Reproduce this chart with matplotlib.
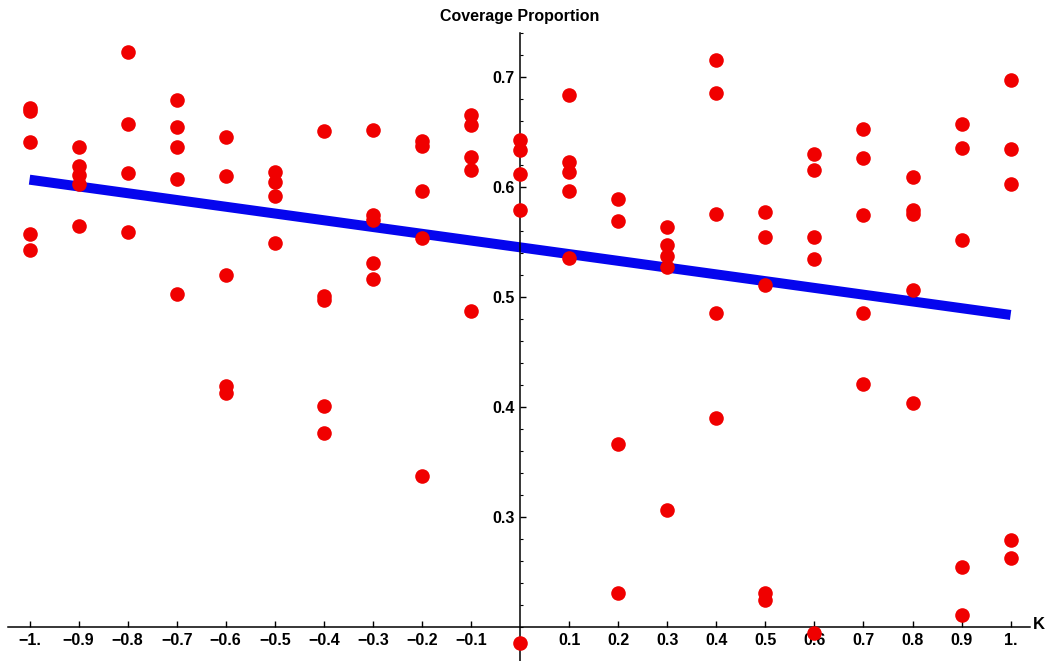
import numpy as np
import matplotlib.pyplot as plt
from matplotlib.ticker import MultipleLocator, FixedLocator

# Coverage proportion samples for each K
K_VALUES = [-1.0, -0.9, -0.8, -0.7, -0.6, -0.5, -0.4, -0.3, -0.2, -0.1,
            0.0, 0.1, 0.2, 0.3, 0.4, 0.5, 0.6, 0.7, 0.8, 0.9, 1.0]
COVERAGE = [
    [0.672, 0.669, 0.641, 0.558, 0.543],
    [0.637, 0.619, 0.611, 0.603, 0.565],
    [0.723, 0.658, 0.613, 0.559],
    [0.679, 0.655, 0.637, 0.608, 0.503],
    [0.646, 0.610, 0.520, 0.419, 0.413],
    [0.614, 0.605, 0.592, 0.549],
    [0.651, 0.501, 0.498, 0.401, 0.377],
    [0.652, 0.575, 0.570, 0.531, 0.517],
    [0.642, 0.638, 0.597, 0.554, 0.338],
    [0.666, 0.657, 0.628, 0.616, 0.488],
    [0.643, 0.634, 0.612, 0.579, 0.186],
    [0.684, 0.623, 0.614, 0.597, 0.536],
    [0.589, 0.569, 0.367, 0.231],
    [0.564, 0.548, 0.538, 0.528, 0.307],
    [0.716, 0.686, 0.576, 0.486, 0.390],
    [0.578, 0.555, 0.511, 0.231, 0.225],
    [0.630, 0.616, 0.555, 0.535, 0.195],
    [0.653, 0.627, 0.575, 0.486, 0.421],
    [0.609, 0.579, 0.576, 0.507, 0.404],
    [0.658, 0.636, 0.552, 0.255, 0.211],
    [0.698, 0.635, 0.603, 0.279, 0.263],
]

# fitted line, read at the two ends
FIT_X = [-1.0, 1.0]
FIT_Y = [0.607, 0.484]

X_TICKS = [-1.0, -0.9, -0.8, -0.7, -0.6, -0.5, -0.4, -0.3, -0.2, -0.1,
           0.1, 0.2, 0.3, 0.4, 0.5, 0.6, 0.7, 0.8, 0.9, 1.0]
X_LABELS = ["\u22121.", "\u22120.9", "\u22120.8", "\u22120.7", "\u22120.6",
            "\u22120.5", "\u22120.4", "\u22120.3", "\u22120.2", "\u22120.1",
            "0.1", "0.2", "0.3", "0.4", "0.5", "0.6", "0.7", "0.8", "0.9", "1."]
Y_TICKS = [0.3, 0.4, 0.5, 0.6, 0.7]
Y_LABELS = ["0.3", "0.4", "0.5", "0.6", "0.7"]

plt.rcParams["font.family"] = ["Liberation Sans", "DejaVu Sans"]

fig = plt.figure(figsize=(10.54, 6.61), dpi=100)
ax = fig.add_axes([0.008, 0.0, 0.969, 0.95])

xs, ys = [], []
for k, vals in zip(K_VALUES, COVERAGE):
    xs.extend([k] * len(vals))
    ys.extend(vals)

ax.plot(FIT_X, FIT_Y, color="#0505ee", linewidth=7.2, solid_capstyle="butt", zorder=2)
ax.plot(xs, ys, "o", color="#f00000", markersize=10.5, markeredgewidth=0,
        clip_on=False, zorder=3)

ax.set_xlim(-1.043, 1.039)
ax.set_ylim(0.1694, 0.7403)

for s in ["top", "right"]:
    ax.spines[s].set_visible(False)
ax.spines["left"].set_position(("data", 0.0))
ax.spines["bottom"].set_position(("data", 0.2))
for s in ["left", "bottom"]:
    ax.spines[s].set_linewidth(1.1)

ax.xaxis.set_major_locator(FixedLocator(X_TICKS))
ax.set_xticklabels(X_LABELS)
ax.yaxis.set_major_locator(FixedLocator(Y_TICKS))
ax.set_yticklabels(Y_LABELS)
ax.yaxis.set_minor_locator(MultipleLocator(0.02))

ax.tick_params(axis="x", which="major", direction="in", length=4, width=1, pad=4,
               labelsize=11.5)
ax.tick_params(axis="y", which="major", direction="in", length=4, width=1, pad=4,
               labelsize=11.5)
ax.tick_params(axis="y", which="minor", direction="in", length=2.5, width=0.8)
for lab in ax.get_xticklabels() + ax.get_yticklabels():
    lab.set_fontweight("bold")

ax.text(0.0, 0.755, "Coverage Proportion", ha="center", va="center",
        fontsize=11.5, fontweight="bold", transform=ax.transData, clip_on=False)
ax.text(1.058, 0.203, "K", ha="center", va="center", fontsize=12,
        fontweight="bold", clip_on=False)

fig.savefig("out.png", dpi=100, facecolor="white")
